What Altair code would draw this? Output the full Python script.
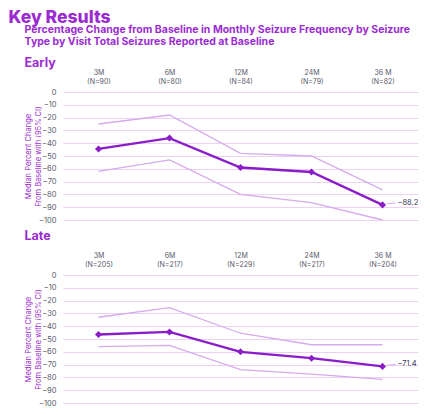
import altair as alt
import pandas as pd

visits = ["3M", "6M", "12M", "24M", "36 M"]
early_n = [90, 80, 84, 79, 82]
late_n = [205, 217, 229, 217, 204]

early_median = [-44.5, -36.0, -59.0, -62.5, -88.2]
early_upper = [-25.0, -18.0, -48.0, -50.0, -76.5]
early_lower = [-62.0, -53.0, -80.0, -86.5, -100.0]

late_median = [-46.5, -44.5, -60.0, -65.0, -71.4]
late_upper = [-33.0, -25.5, -45.5, -54.5, -54.5]
late_lower = [-56.0, -55.0, -74.0, -77.5, -81.5]

y_ticks = list(range(-100, 1, 10))

FONT = "Inter"
TITLE_COLOR = "#9B2CD0"
MAIN = "#8A1CC9"
CI = "#D6AAEC"
GRID = "#EDD1F5"
LABEL = "#5A5A6A"


def panel(median, upper, lower, ns, title):
    labels = [f"{v}|(N={n})" for v, n in zip(visits, ns)]
    df = pd.DataFrame({
        "label": labels,
        "median": median,
        "upper": upper,
        "lower": lower,
        "end": ["" for _ in labels[:-1]] + [f"{median[-1]}".replace("-", "\u2212")],
    })
    xaxis = alt.Axis(
        orient="top", labelExpr="split(datum.label, '|')", labelAngle=0,
        domain=False, ticks=False, grid=False, title=None,
        labelFont=FONT, labelFontSize=7, labelColor=LABEL,
        labelLineHeight=9, labelPadding=17,
    )
    xscale = alt.Scale(type="point", padding=0.5)
    x = alt.X("label:N", sort=labels, scale=xscale, axis=xaxis)
    yscale = alt.Scale(domain=[-100, 0], nice=False, zero=False)
    yaxis = alt.Axis(
        values=y_ticks, grid=True, gridColor=GRID, gridWidth=1,
        domain=False, ticks=False, labelFont=FONT, labelFontSize=7.5,
        labelColor=LABEL, labelPadding=7, labelOverlap=False,
        title=["Median Percent Change", "From Baseline with (95% CI)"],
        titleFont=FONT, titleFontSize=7.5, titleFontWeight="normal",
        titleColor=TITLE_COLOR, titlePadding=-4, titleLineHeight=10,
    )

    def Y(field):
        return alt.Y(field, scale=yscale, axis=yaxis)

    base = alt.Chart(df)
    up = base.mark_line(color=CI, strokeWidth=1.3).encode(x=x, y=Y("upper:Q"))
    lo = base.mark_line(color=CI, strokeWidth=1.3).encode(x=x, y=Y("lower:Q"))
    med = base.mark_line(
        color=MAIN, strokeWidth=2.3,
        point=alt.OverlayMarkDef(shape="diamond", filled=True, size=50, color=MAIN),
    ).encode(x=x, y=Y("median:Q"))
    last = base.transform_filter("datum.end != ''")
    conn = last.mark_rule(color=CI, strokeWidth=1, xOffset=4, x2Offset=13, yOffset=-1, y2Offset=-2).encode(
        x=x, x2=alt.X2("label:N"), y=Y("median:Q"), y2=alt.Y2("median:Q"))
    txt = last.mark_text(align="left", dx=15, dy=-2, font=FONT, fontSize=7.5, color="#3A3A5A").encode(
        x=x, y=Y("median:Q"), text="end:N")
    return alt.layer(up, lo, med, conn, txt).properties(width=355, height=128, title=title)


early_title = alt.TitleParams(
    text=["Percentage Change from Baseline in Monthly Seizure Frequency by Seizure",
          "Type by Visit Total Seizures Reported at Baseline"],
    subtitle="Early",
    anchor="start", frame="bounds", font=FONT, fontSize=10.5, fontWeight=700,
    color=TITLE_COLOR, lineHeight=12,
    subtitleFont=FONT, subtitleFontSize=12.5, subtitleFontWeight=700,
    subtitleColor=TITLE_COLOR, subtitlePadding=9, offset=-1,
)
late_title = alt.TitleParams(
    text="Late", anchor="start", frame="bounds", font=FONT, fontSize=12.5,
    fontWeight=700, color=TITLE_COLOR, offset=9,
)

chart = alt.vconcat(
    panel(early_median, early_upper, early_lower, early_n, early_title),
    panel(late_median, late_upper, late_lower, late_n, late_title),
    spacing=5,
).properties(
    title=alt.TitleParams(
        text="Key Results", anchor="start", font=FONT, fontSize=17.5,
        fontWeight=800, color=TITLE_COLOR, dx=-16, offset=-1,
    ),
    padding={"left": 0, "top": 0, "right": 0, "bottom": 0},
).configure_view(stroke=None)

chart.save("out.html", embed_options={"renderer": "svg", "actions": False})
